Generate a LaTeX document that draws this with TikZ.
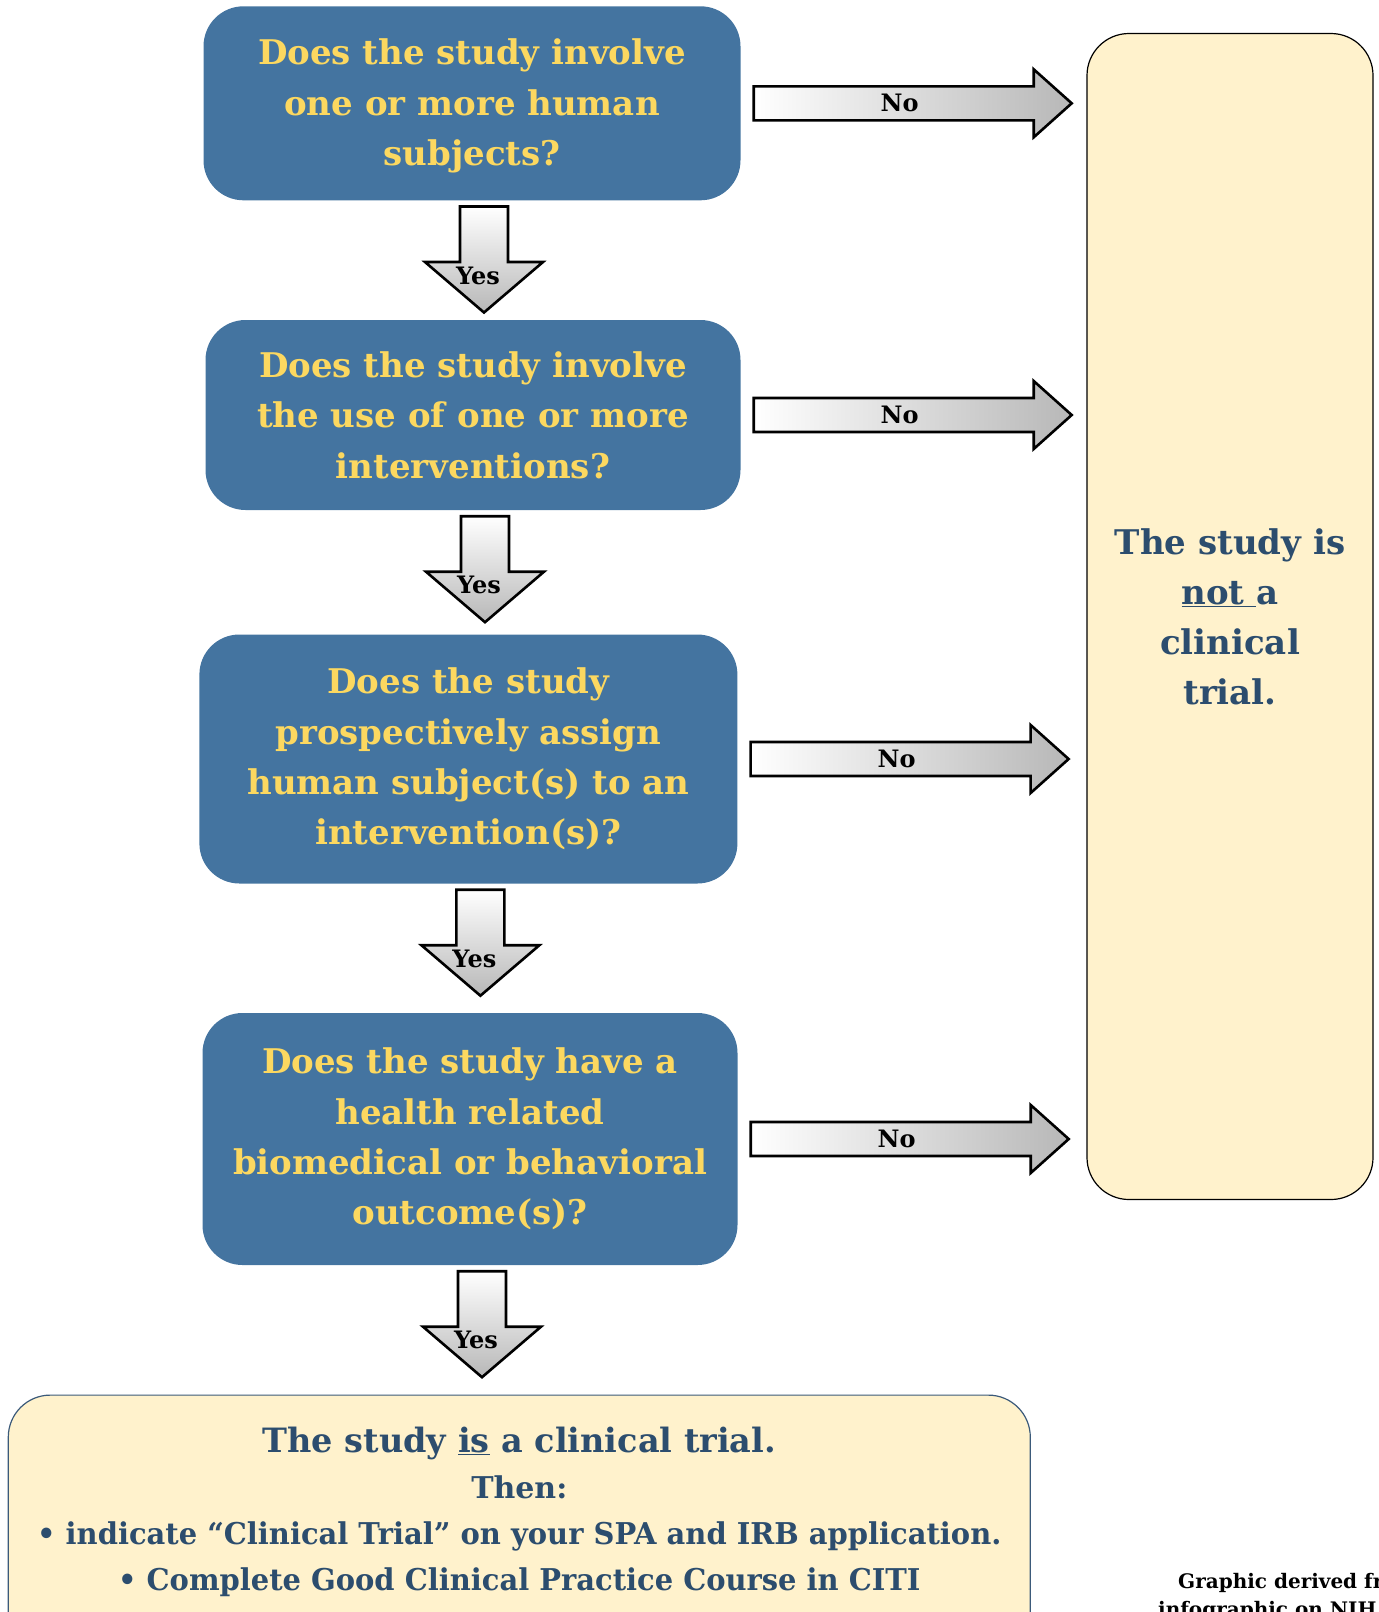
\documentclass[tikz,border=0pt]{standalone}
\usepackage{fontspec}
\setmainfont{DejaVu Serif}
\newfontfamily\ctfont{DejaVu Serif}[FakeStretch=0.965]
\usetikzlibrary{calc, positioning}

\definecolor{qblue}{HTML}{4474A0}
\definecolor{qyellow}{HTML}{FCD860}
\definecolor{cream}{HTML}{FFF2CC}
\definecolor{navy}{HTML}{2C4D6E}
\definecolor{ctedge}{HTML}{3B5A7A}

\begin{document}
\begin{tikzpicture}[
            x = 1pt,
            y = -1pt,
            line join = miter
        ]

        \tikzstyle{question}=[
            rectangle,
            rounded corners = 40pt,
            fill = qblue,
            text = qyellow,
            font = \bfseries\fontsize{34}{50.4}\selectfont,
            align = center,
            inner sep = 0pt
        ]
        \tikzstyle{verdict}=[
            rectangle,
            rounded corners = 42pt,
            fill = cream,
            draw = black,
            line width = 1.2pt
        ]
        \tikzset{
            noarrow/.style={draw=black, line width=2.6pt, left color=white, right color=black!28},
            yesarrow/.style={draw=black, line width=2.6pt, top color=white, bottom color=black!28},
            answer/.style={font=\bfseries\fontsize{24}{24}\selectfont, inner sep=0pt},
            ctline/.style={text=navy, anchor=base, inner sep=0pt},
            credit/.style={font=\bfseries\fontsize{20}{22}\selectfont, anchor=base west, inner sep=0pt}
        }

        \path[use as bounding box, clip] (0,0) rectangle (1379,1612);

        % questions
        \node[question, minimum width=537pt, minimum height=194pt] (q1) at (472,103.3)
            {\rule{0pt}{31pt}Does the study involve\\one or more human\\subjects?};
        \node[question, minimum width=535pt, minimum height=190pt] (q2) at (473,415)
            {Does the study involve\\the use of one or more\\interventions?};
        \node[question, minimum width=538pt, minimum height=249pt] (q3) at (468.4,759)
            {Does the study\\prospectively assign\\human subject(s) to an\\intervention(s)?};
        \node[question, minimum width=535pt, minimum height=252pt] (q4) at (470,1139)
            {Does the study have a\\health related\\biomedical or behavioral\\outcome(s)?};

        % verdicts
        \node[verdict, minimum width=286pt, minimum height=1166pt, text=navy, align=center,
              font=\bfseries\fontsize{34}{50}\selectfont] (notct) at (1230,616.5)
            {The study is\\\underline{not\ }a\\clinical\\trial.};
        \node[verdict, draw=ctedge, minimum width=1022pt, minimum height=320pt, anchor=north] (isct) at (519.3,1394.5) {};
        \node[ctline, font=\bfseries\fontsize{33.5}{40}\selectfont] (ct-head) at ($(isct.north)+(0,58.2)$)
            {The study \underline{is} a clinical trial.};
        \node[ctline, font=\bfseries\fontsize{30}{40}\selectfont] (ct-then) at ($(isct.north)+(0,103.5)$) {Then:};
        \node[ctline, font=\ctfont\bfseries\fontsize{30}{40}\selectfont] (ct-spa) at ($(isct.north)+(0,149.5)$)
            {\textbullet\ indicate “Clinical Trial” on your SPA and IRB application.};
        \node[ctline, font=\ctfont\bfseries\fontsize{30}{40}\selectfont] (ct-citi) at ($(isct.north)+(0,195.5)$)
            {\textbullet\ Complete Good Clinical Practice Course in CITI};

        % answers
        \foreach \q in {q1,q2,q3,q4} {
            \shadedraw[noarrow] ($(\q.east)+(13,-17)$) -- ++(280,0) -- ++(0,-17) -- ++(38,34)
                -- ++(-38,34) -- ++(0,-17) -- ++(-280,0) -- cycle;
            \node[answer] (no-\q) at ($(\q.east)+(159,0)$) {No};
            \shadedraw[yesarrow] ($(\q.south)+(-12,6)$) -- ++(48,0) -- ++(0,55.5) -- ++(35,0)
                -- ++(-59,50.5) -- ++(-59,-50.5) -- ++(35,0) -- cycle;
            \node[answer] (yes-\q) at ($(\q.south)+(6,75)$) {Yes};
        }

        % credit
        \node[credit] (credit1) at (1178,1588) {Graphic derived from};
        \node[credit] (credit2) at (1158,1616) {infographic on NIH};

    \end{tikzpicture}
\end{document}
